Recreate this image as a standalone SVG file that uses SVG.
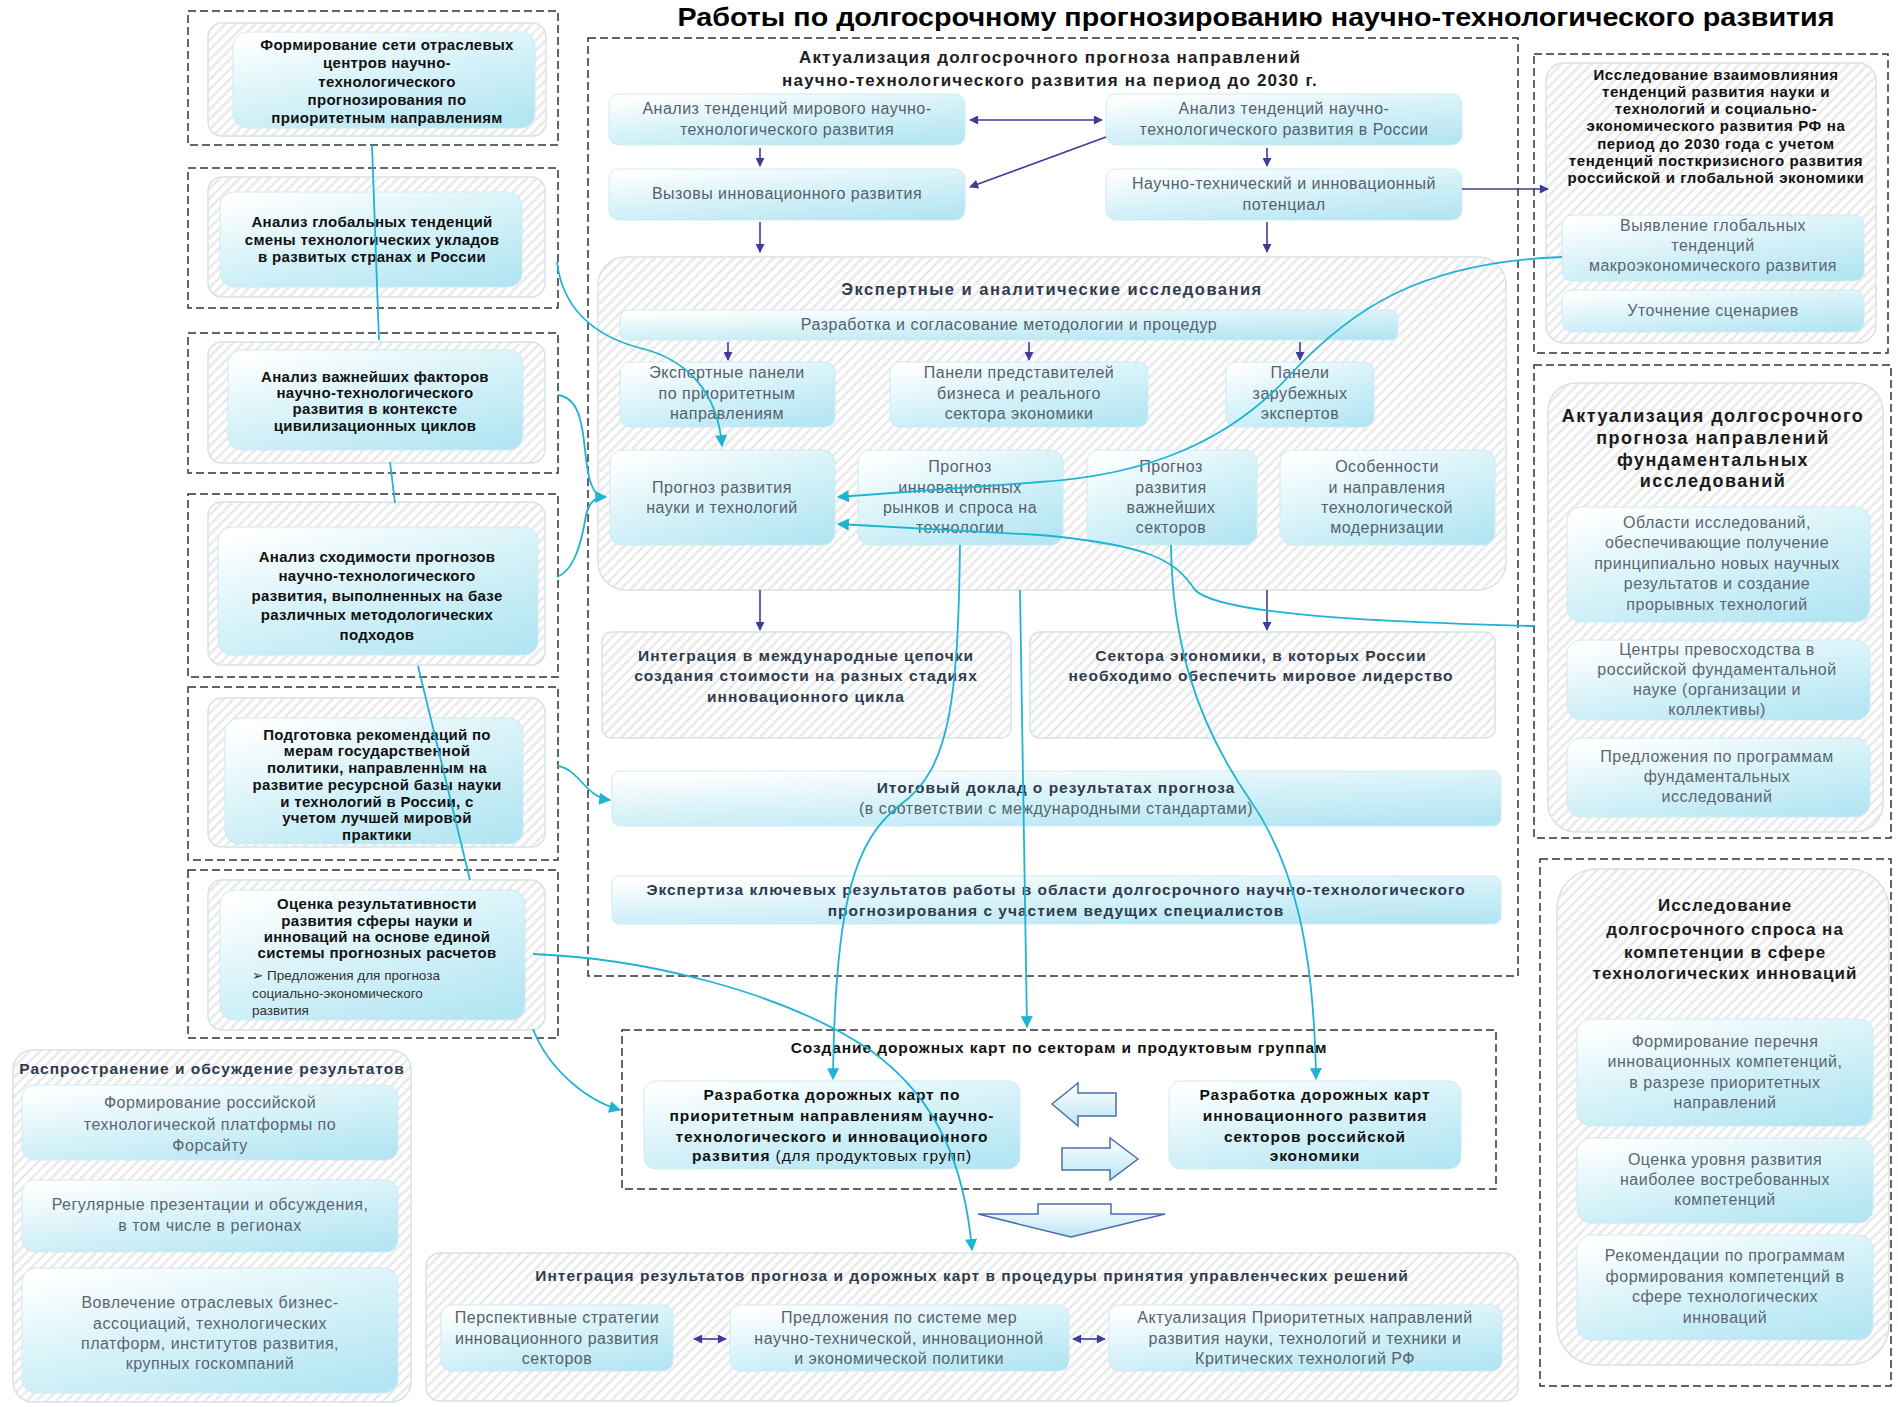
<svg xmlns="http://www.w3.org/2000/svg" width="1898" height="1407" viewBox="0 0 1898 1407">
<defs>
<linearGradient id="g" x1="0.15" y1="0" x2="0.85" y2="1">
<stop offset="0" stop-color="#ffffff"/>
<stop offset="0.45" stop-color="#d9f3f9"/>
<stop offset="1" stop-color="#b3e5f2"/>
</linearGradient>
<linearGradient id="ga" x1="0" y1="0" x2="0" y2="1">
<stop offset="0" stop-color="#ffffff"/>
<stop offset="1" stop-color="#b9e6f4"/>
</linearGradient>
<pattern id="hatch" patternUnits="userSpaceOnUse" width="7" height="7" patternTransform="rotate(45)">
<rect width="7" height="7" fill="#ffffff"/>
<line x1="1.5" y1="0" x2="1.5" y2="7" stroke="#e6e6e6" stroke-width="2.2"/>
</pattern>
<marker id="ad" viewBox="0 0 10 10" refX="9" refY="5" markerWidth="10" markerHeight="9" markerUnits="userSpaceOnUse" orient="auto-start-reverse">
<path d="M0,0 L10,5 L0,10 Z" fill="#3d3d98"/>
</marker>
<marker id="ac" viewBox="0 0 10 10" refX="9" refY="5" markerWidth="13" markerHeight="12" markerUnits="userSpaceOnUse" orient="auto">
<path d="M0,0 L10,5 L0,10 Z" fill="#1fb3d4"/>
</marker>
<style>
.t{font-family:"Liberation Sans",Arial,"DejaVu Sans",sans-serif}
.title{font-size:26px;font-weight:bold;fill:#000;text-anchor:middle}
.lb{font-size:15px;font-weight:bold;fill:#111;letter-spacing:0.3px;text-anchor:middle}
.cb{font-size:17px;font-weight:bold;fill:#1e1e1e;letter-spacing:1.2px;text-anchor:middle}
.sb{font-size:15.5px;font-weight:bold;fill:#2f3b4d;letter-spacing:1px;text-anchor:middle}
.kb{font-size:15.5px;font-weight:bold;fill:#111;letter-spacing:0.9px;text-anchor:middle}
.r{font-size:16px;fill:#56616d;letter-spacing:0.5px;text-anchor:middle}
.rl{font-size:16px;fill:#5b6672;letter-spacing:0.5px;text-anchor:middle}
.rb{font-size:15px;font-weight:bold;fill:#111;letter-spacing:0.6px;text-anchor:middle}
.rt{font-size:17px;font-weight:bold;fill:#1a1a1a;letter-spacing:1px;text-anchor:middle}
.rt2{font-size:18px;font-weight:bold;fill:#1a1a1a;letter-spacing:1.5px;text-anchor:middle}
.sm{font-size:13.5px;fill:#333}
.dash{fill:none;stroke:#333;stroke-width:1.5;stroke-dasharray:8 4}
.hz{fill:url(#hatch);stroke:#d6e2e6;stroke-width:1.5}
.bx{fill:url(#g);stroke:#cfeaf2;stroke-width:1}
.dk{fill:none;stroke:#3d3d98;stroke-width:1.6}
.cy{fill:none;stroke:#1fb3d4;stroke-width:1.8}
.ha{fill:url(#ga);stroke:#4a6db3;stroke-width:1.5}
</style>
</defs>
<rect width="1898" height="1407" fill="#ffffff"/>

<text class="t title" x="1256" y="26" textLength="1157" lengthAdjust="spacingAndGlyphs">Работы по долгосрочному прогнозированию научно-технологического развития</text>

<!-- Left column -->
<g id="L1">
<rect class="dash" x="188" y="11" width="370" height="134"/>
<rect class="hz" x="208" y="23" width="338" height="113" rx="14"/>
<rect class="bx" x="233" y="32" width="302" height="96" rx="14"/>
<text class="t lb"><tspan x="387" y="50">Формирование сети отраслевых</tspan><tspan x="387" y="68">центров научно-</tspan><tspan x="387" y="87">технологического</tspan><tspan x="387" y="105">прогнозирования по</tspan><tspan x="387" y="123">приоритетным направлениям</tspan></text>
</g>
<g id="L2">
<rect class="dash" x="188" y="168" width="370" height="140"/>
<rect class="hz" x="208" y="177" width="337" height="120" rx="14"/>
<rect class="bx" x="220" y="192" width="302" height="95" rx="14"/>
<text class="t lb"><tspan x="372" y="227">Анализ глобальных тенденций</tspan><tspan x="372" y="245">смены технологических укладов</tspan><tspan x="372" y="262">в развитых странах и России</tspan></text>
</g>
<g id="L3">
<rect class="dash" x="188" y="333" width="370" height="140"/>
<rect class="hz" x="208" y="342" width="337" height="121" rx="14"/>
<rect class="bx" x="228" y="350" width="295" height="100" rx="14"/>
<text class="t lb"><tspan x="375" y="382">Анализ важнейших факторов</tspan><tspan x="375" y="398">научно-технологического</tspan><tspan x="375" y="414">развития в контексте</tspan><tspan x="375" y="431">цивилизационных циклов</tspan></text>
</g>
<g id="L4">
<rect class="dash" x="188" y="494" width="370" height="183"/>
<rect class="hz" x="208" y="502" width="337" height="163" rx="14"/>
<rect class="bx" x="218" y="527" width="320" height="128" rx="14"/>
<text class="t lb"><tspan x="377" y="562">Анализ сходимости прогнозов</tspan><tspan x="377" y="581">научно-технологического</tspan><tspan x="377" y="601">развития, выполненных на базе</tspan><tspan x="377" y="620">различных методологических</tspan><tspan x="377" y="640">подходов</tspan></text>
</g>
<g id="L5">
<rect class="dash" x="188" y="687" width="370" height="173"/>
<rect class="hz" x="208" y="698" width="337" height="149" rx="14"/>
<rect class="bx" x="225" y="718" width="298" height="126" rx="14"/>
<text class="t lb"><tspan x="377" y="740">Подготовка рекомендаций по</tspan><tspan x="377" y="756">мерам государственной</tspan><tspan x="377" y="773">политики, направленным на</tspan><tspan x="377" y="790">развитие ресурсной базы науки</tspan><tspan x="377" y="807">и технологий в России, с</tspan><tspan x="377" y="823">учетом лучшей мировой</tspan><tspan x="377" y="840">практики</tspan></text>
</g>
<g id="L6">
<rect class="dash" x="188" y="870" width="370" height="168"/>
<rect class="hz" x="208" y="880" width="337" height="150" rx="14"/>
<rect class="bx" x="220" y="890" width="305" height="130" rx="14"/>
<text class="t lb"><tspan x="377" y="909">Оценка результативности</tspan><tspan x="377" y="926">развития сферы науки и</tspan><tspan x="377" y="942">инноваций на основе единой</tspan><tspan x="377" y="958">системы прогнозных расчетов</tspan></text>
<text class="t sm"><tspan x="252" y="980">➢ Предложения для прогноза</tspan><tspan x="252" y="998">социально-экономического</tspan><tspan x="252" y="1015">развития</tspan></text>
</g>

<!-- Main dashed block -->
<g id="main">
<rect class="dash" x="588" y="38" width="930" height="938"/>
<text class="t cb"><tspan x="1050" y="63">Актуализация долгосрочного прогноза направлений</tspan><tspan x="1050" y="86">научно-технологического развития на период до 2030 г.</tspan></text>
</g>
<g id="A1">
<rect class="bx" x="609" y="94" width="356" height="51" rx="10"/>
<text class="t r"><tspan x="787" y="114">Анализ тенденций мирового научно-</tspan><tspan x="787" y="135">технологического развития</tspan></text>
</g>
<g id="A2">
<rect class="bx" x="1106" y="94" width="356" height="51" rx="10"/>
<text class="t r"><tspan x="1284" y="114">Анализ тенденций научно-</tspan><tspan x="1284" y="135">технологического развития в России</tspan></text>
</g>
<g id="B1">
<rect class="bx" x="609" y="169" width="356" height="51" rx="10"/>
<text class="t r" x="787" y="199">Вызовы инновационного развития</text>
</g>
<g id="B2">
<rect class="bx" x="1106" y="169" width="356" height="51" rx="10"/>
<text class="t r"><tspan x="1284" y="189">Научно-технический и инновационный</tspan><tspan x="1284" y="210">потенциал</tspan></text>
</g>

<g id="expert">
<rect class="hz" x="598" y="257" width="908" height="333" rx="28"/>
<text class="t sb" x="1052" y="295" style="font-size:16.5px;letter-spacing:1.5px">Экспертные и аналитические исследования</text>
</g>
<g id="E0">
<rect class="bx" x="620" y="310" width="778" height="30" rx="8"/>
<text class="t r" x="1009" y="330">Разработка и согласование методологии и процедур</text>
</g>
<g id="P1">
<rect class="bx" x="620" y="362" width="215" height="65" rx="10"/>
<text class="t r"><tspan x="727" y="378">Экспертные панели</tspan><tspan x="727" y="399">по приоритетным</tspan><tspan x="727" y="419">направлениям</tspan></text>
</g>
<g id="P2">
<rect class="bx" x="890" y="362" width="258" height="65" rx="10"/>
<text class="t r"><tspan x="1019" y="378">Панели представителей</tspan><tspan x="1019" y="399">бизнеса и реального</tspan><tspan x="1019" y="419">сектора экономики</tspan></text>
</g>
<g id="P3">
<rect class="bx" x="1226" y="362" width="148" height="65" rx="10"/>
<text class="t r"><tspan x="1300" y="378">Панели</tspan><tspan x="1300" y="399">зарубежных</tspan><tspan x="1300" y="419">экспертов</tspan></text>
</g>
<g id="Q1">
<rect class="bx" x="610" y="450" width="225" height="95" rx="12"/>
<text class="t r"><tspan x="722" y="493">Прогноз развития</tspan><tspan x="722" y="513">науки и технологий</tspan></text>
</g>
<g id="Q2">
<rect class="bx" x="858" y="450" width="205" height="95" rx="12"/>
<text class="t r"><tspan x="960" y="472">Прогноз</tspan><tspan x="960" y="493">инновационных</tspan><tspan x="960" y="513">рынков и спроса на</tspan><tspan x="960" y="533">технологии</tspan></text>
</g>
<g id="Q3">
<rect class="bx" x="1087" y="450" width="170" height="95" rx="12"/>
<text class="t r"><tspan x="1171" y="472">Прогноз</tspan><tspan x="1171" y="493">развития</tspan><tspan x="1171" y="513">важнейших</tspan><tspan x="1171" y="533">секторов</tspan></text>
</g>
<g id="Q4">
<rect class="bx" x="1280" y="450" width="215" height="95" rx="12"/>
<text class="t r"><tspan x="1387" y="472">Особенности</tspan><tspan x="1387" y="493">и направления</tspan><tspan x="1387" y="513">технологической</tspan><tspan x="1387" y="533">модернизации</tspan></text>
</g>

<g id="H1">
<rect class="hz" x="602" y="632" width="409" height="106" rx="10"/>
<text class="t sb"><tspan x="806" y="661">Интеграция в международные цепочки</tspan><tspan x="806" y="681">создания стоимости на разных стадиях</tspan><tspan x="806" y="702">инновационного цикла</tspan></text>
</g>
<g id="H2">
<rect class="hz" x="1030" y="632" width="465" height="106" rx="10"/>
<text class="t sb"><tspan x="1261" y="661">Сектора экономики, в которых России</tspan><tspan x="1261" y="681">необходимо обеспечить мировое лидерство</tspan></text>
</g>
<g id="R">
<rect class="bx" x="612" y="771" width="889" height="55" rx="8"/>
<text class="t sb" x="1056" y="793">Итоговый доклад о результатах прогноза</text>
<text class="t r" x="1056" y="814">(в соответствии с международными стандартами)</text>
</g>
<g id="X">
<rect class="bx" x="612" y="876" width="889" height="48" rx="8"/>
<text class="t sb"><tspan x="1056" y="895">Экспертиза ключевых результатов работы в области долгосрочного научно-технологического</tspan><tspan x="1056" y="916">прогнозирования с участием ведущих специалистов</tspan></text>
</g>

<!-- Roadmaps -->
<g id="RM">
<rect class="dash" x="622" y="1030" width="874" height="159"/>
<text class="t kb" x="1059" y="1053">Создание дорожных карт по  секторам и продуктовым группам</text>
</g>
<g id="RL">
<rect class="bx" x="644" y="1081" width="376" height="88" rx="12"/>
<text class="t kb"><tspan x="832" y="1100">Разработка дорожных карт по</tspan><tspan x="832" y="1121">приоритетным направлениям научно-</tspan><tspan x="832" y="1142">технологического и инновационного</tspan><tspan x="832" y="1161">развития<tspan style="font-weight:normal"> (для продуктовых групп)</tspan></tspan></text>
</g>
<g id="RR">
<rect class="bx" x="1169" y="1081" width="292" height="88" rx="12"/>
<text class="t kb"><tspan x="1315" y="1100">Разработка дорожных карт</tspan><tspan x="1315" y="1121">инновационного развития</tspan><tspan x="1315" y="1142">секторов российской</tspan><tspan x="1315" y="1161">экономики</tspan></text>
</g>
<g id="arrLeft"><polygon class="ha" points="1052,1104 1078,1083 1078,1093 1116,1093 1116,1116 1078,1116 1078,1126"/></g>
<g id="arrRight"><polygon class="ha" points="1138,1159 1110,1138 1110,1148 1062,1148 1062,1170 1110,1170 1110,1180"/></g>
<g id="arrDown"><polygon class="ha" points="1038,1204 1111,1204 1111,1214 1165,1214 1071,1237 978,1214 1038,1214"/></g>

<!-- Integration -->
<g id="INT">
<rect class="hz" x="426" y="1253" width="1092" height="148" rx="14"/>
<text class="t sb" x="972" y="1281">Интеграция результатов прогноза и дорожных карт в процедуры принятия управленческих решений</text>
</g>
<g id="I1">
<rect class="bx" x="441" y="1305" width="232" height="66" rx="10"/>
<text class="t r"><tspan x="557" y="1323">Перспективные стратегии</tspan><tspan x="557" y="1344">инновационного развития</tspan><tspan x="557" y="1364">секторов</tspan></text>
</g>
<g id="I2">
<rect class="bx" x="730" y="1305" width="339" height="66" rx="10"/>
<text class="t r"><tspan x="899" y="1323">Предложения по системе мер</tspan><tspan x="899" y="1344">научно-технической, инновационной</tspan><tspan x="899" y="1364">и экономической политики</tspan></text>
</g>
<g id="I3">
<rect class="bx" x="1109" y="1305" width="393" height="66" rx="10"/>
<text class="t r"><tspan x="1305" y="1323">Актуализация Приоритетных направлений</tspan><tspan x="1305" y="1344">развития науки, технологий и техники и</tspan><tspan x="1305" y="1364">Критических технологий РФ</tspan></text>
</g>

<!-- Bottom left -->
<g id="D">
<rect class="hz" x="13" y="1050" width="398" height="352" rx="20"/>
<text class="t sb" x="212" y="1074">Распространение и обсуждение результатов</text>
</g>
<g id="D1">
<rect class="bx" x="22" y="1085" width="376" height="75" rx="12"/>
<text class="t rl"><tspan x="210" y="1108">Формирование российской</tspan><tspan x="210" y="1130">технологической платформы по</tspan><tspan x="210" y="1151">Форсайту</tspan></text>
</g>
<g id="D2">
<rect class="bx" x="22" y="1180" width="376" height="72" rx="12"/>
<text class="t rl"><tspan x="210" y="1210">Регулярные презентации и обсуждения,</tspan><tspan x="210" y="1231">в том числе в регионах</tspan></text>
</g>
<g id="D3">
<rect class="bx" x="22" y="1268" width="376" height="125" rx="14"/>
<text class="t rl"><tspan x="210" y="1308">Вовлечение отраслевых бизнес-</tspan><tspan x="210" y="1329">ассоциаций, технологических</tspan><tspan x="210" y="1349">платформ, институтов развития,</tspan><tspan x="210" y="1369">крупных госкомпаний</tspan></text>
</g>

<!-- Right column -->
<g id="RC1">
<rect class="dash" x="1534" y="54" width="354" height="299"/>
<rect class="hz" x="1546" y="63" width="330" height="280" rx="18"/>
<text class="t rb"><tspan x="1716" y="80">Исследование  взаимовлияния</tspan><tspan x="1716" y="97">тенденций развития науки и</tspan><tspan x="1716" y="114">технологий и социально-</tspan><tspan x="1716" y="131">экономического развития РФ на</tspan><tspan x="1716" y="149">период до 2030 года с учетом</tspan><tspan x="1716" y="166">тенденций посткризисного развития</tspan><tspan x="1716" y="183">российской и глобальной экономики</tspan></text>
</g>
<g id="RC1a">
<rect class="bx" x="1562" y="215" width="302" height="66" rx="10"/>
<text class="t rl"><tspan x="1713" y="231">Выявление глобальных</tspan><tspan x="1713" y="251">тенденций</tspan><tspan x="1713" y="271">макроэкономического развития</tspan></text>
</g>
<g id="RC1b">
<rect class="bx" x="1562" y="290" width="302" height="42" rx="10"/>
<text class="t rl" x="1713" y="316">Уточнение  сценариев</text>
</g>
<g id="RC2">
<rect class="dash" x="1534" y="365" width="357" height="473"/>
<rect class="hz" x="1548" y="383" width="335" height="449" rx="28"/>
<text class="t rt2"><tspan x="1713" y="422">Актуализация долгосрочного</tspan><tspan x="1713" y="444">прогноза направлений</tspan><tspan x="1713" y="466">фундаментальных</tspan><tspan x="1713" y="487">исследований</tspan></text>
</g>
<g id="RC2a">
<rect class="bx" x="1567" y="507" width="303" height="115" rx="14"/>
<text class="t rl"><tspan x="1717" y="528">Области исследований,</tspan><tspan x="1717" y="548">обеспечивающие получение</tspan><tspan x="1717" y="569">принципиально новых научных</tspan><tspan x="1717" y="589">результатов и создание</tspan><tspan x="1717" y="610">прорывных технологий</tspan></text>
</g>
<g id="RC2b">
<rect class="bx" x="1567" y="640" width="303" height="80" rx="14"/>
<text class="t rl"><tspan x="1717" y="655">Центры превосходства в</tspan><tspan x="1717" y="675">российской фундаментальной</tspan><tspan x="1717" y="695">науке (организации и</tspan><tspan x="1717" y="715">коллективы)</tspan></text>
</g>
<g id="RC2c">
<rect class="bx" x="1567" y="738" width="303" height="79" rx="14"/>
<text class="t rl"><tspan x="1717" y="762">Предложения по программам</tspan><tspan x="1717" y="782">фундаментальных</tspan><tspan x="1717" y="802">исследований</tspan></text>
</g>
<g id="RC3">
<rect class="dash" x="1540" y="859" width="351" height="527"/>
<rect class="hz" x="1557" y="869" width="332" height="496" rx="40"/>
<text class="t rt"><tspan x="1725" y="911">Исследование</tspan><tspan x="1725" y="935">долгосрочного спроса на</tspan><tspan x="1725" y="958">компетенции в сфере</tspan><tspan x="1725" y="979">технологических инноваций</tspan></text>
</g>
<g id="RC3a">
<rect class="bx" x="1577" y="1019" width="296" height="107" rx="14"/>
<text class="t rl"><tspan x="1725" y="1047">Формирование перечня</tspan><tspan x="1725" y="1067">инновационных компетенций,</tspan><tspan x="1725" y="1088">в разрезе приоритетных</tspan><tspan x="1725" y="1108">направлений</tspan></text>
</g>
<g id="RC3b">
<rect class="bx" x="1577" y="1138" width="296" height="85" rx="14"/>
<text class="t rl"><tspan x="1725" y="1165">Оценка уровня развития</tspan><tspan x="1725" y="1185">наиболее востребованных</tspan><tspan x="1725" y="1205">компетенций</tspan></text>
</g>
<g id="RC3c">
<rect class="bx" x="1577" y="1235" width="296" height="105" rx="14"/>
<text class="t rl"><tspan x="1725" y="1261">Рекомендации по программам</tspan><tspan x="1725" y="1282">формирования компетенций в</tspan><tspan x="1725" y="1302">сфере технологических</tspan><tspan x="1725" y="1323">инноваций</tspan></text>
</g>

<!-- Connectors -->
<g id="connectors">
<line class="dk" x1="970" y1="120" x2="1102" y2="120" marker-start="url(#ad)" marker-end="url(#ad)"/>
<line class="dk" x1="1106" y1="137" x2="970" y2="187" marker-end="url(#ad)"/>
<line class="dk" x1="760" y1="148" x2="760" y2="166" marker-end="url(#ad)"/>
<line class="dk" x1="1267" y1="148" x2="1267" y2="166" marker-end="url(#ad)"/>
<line class="dk" x1="1462" y1="189" x2="1548" y2="189" marker-end="url(#ad)"/>
<line class="dk" x1="760" y1="222" x2="760" y2="252" marker-end="url(#ad)"/>
<line class="dk" x1="1267" y1="222" x2="1267" y2="252" marker-end="url(#ad)"/>
<line class="dk" x1="728" y1="342" x2="728" y2="360" marker-end="url(#ad)"/>
<line class="dk" x1="1029" y1="342" x2="1029" y2="360" marker-end="url(#ad)"/>
<line class="dk" x1="1300" y1="342" x2="1300" y2="360" marker-end="url(#ad)"/>
<line class="dk" x1="760" y1="590" x2="760" y2="630" marker-end="url(#ad)"/>
<line class="dk" x1="1267" y1="590" x2="1267" y2="630" marker-end="url(#ad)"/>
<line class="dk" x1="694" y1="1339" x2="726" y2="1339" marker-start="url(#ad)" marker-end="url(#ad)"/>
<line class="dk" x1="1073" y1="1339" x2="1105" y2="1339" marker-start="url(#ad)" marker-end="url(#ad)"/>

<path class="cy" d="M372,145 L379,340"/>
<path class="cy" d="M390,462 L395,503"/>
<path class="cy" d="M418,666 L470,880"/>
<path class="cy" d="M533,1029 C548,1068 585,1100 620,1110" marker-end="url(#ac)"/>
<path class="cy" d="M557,262 C562,305 590,335 640,348 C690,360 718,395 722,446" marker-end="url(#ac)"/>
<path class="cy" d="M558,395 C578,398 582,420 585,450 C588,480 592,497 606,497" marker-end="url(#ac)"/>
<path class="cy" d="M557,577 C575,570 582,540 586,515 C589,502 595,497 604,497"/>
<path class="cy" d="M1562,257 C1420,262 1350,310 1290,375 C1230,440 1150,475 1040,482 L838,497" marker-end="url(#ac)"/>
<path class="cy" d="M1534,626 C1380,622 1220,615 1195,590 C1175,560 1150,545 1040,535 L838,524" marker-end="url(#ac)"/>
<path class="cy" d="M960,545 C958,700 950,770 900,805 C855,840 835,900 833,1079" marker-end="url(#ac)"/>
<path class="cy" d="M1020,590 L1027,1027" marker-end="url(#ac)"/>
<path class="cy" d="M1171,545 C1172,640 1195,720 1250,800 C1295,865 1314,950 1316,1079" marker-end="url(#ac)"/>
<path class="cy" d="M533,954 C640,958 780,990 870,1050 C940,1100 965,1170 972,1250" marker-end="url(#ac)"/>
<path class="cy" d="M558,766 C580,770 585,797 610,800" marker-end="url(#ac)"/>
</g>
</svg>
